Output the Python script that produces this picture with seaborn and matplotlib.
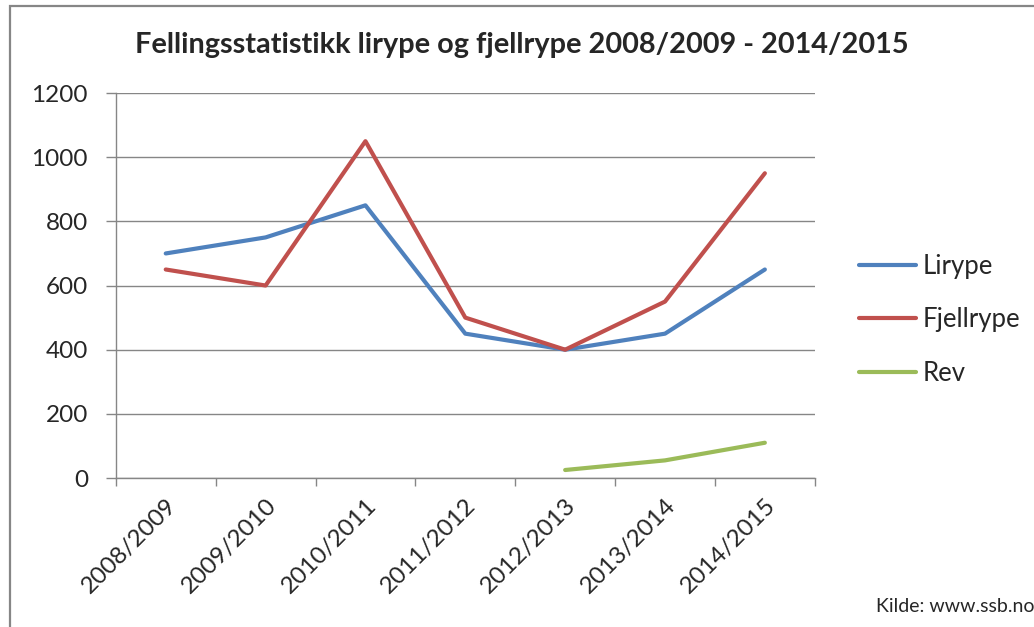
import matplotlib
matplotlib.use("Agg")
import matplotlib.pyplot as plt
import matplotlib.patches as mpatches
import numpy as np
import pandas as pd
import seaborn as sns

seasons = ["2008/2009", "2009/2010", "2010/2011", "2011/2012",
           "2012/2013", "2013/2014", "2014/2015"]
lirype = [700, 750, 850, 450, 400, 450, 650]
fjellrype = [650, 600, 1050, 500, 400, 550, 950]
rev = [np.nan, np.nan, np.nan, np.nan, 25, 55, 110]

series_names = ["Lirype", "Fjellrype", "Rev"]
colors = ["#4F81BD", "#C0504D", "#9BBB59"]

# long form for seaborn
df = pd.DataFrame({
    "season": seasons * 3,
    "value": lirype + fjellrype + rev,
    "art": sum([[n] * len(seasons) for n in series_names], []),
})

sns.set_style("white")
plt.rcParams["font.family"] = ["Lato", "DejaVu Sans"]

fig = plt.figure(figsize=(10.34, 6.27), dpi=100)
ax = fig.add_axes([0.112, 0.2376, 0.676, 0.614])

sns.lineplot(data=df, x="season", y="value", hue="art", palette=colors,
             hue_order=series_names, linewidth=3.0, ax=ax, sort=False,
             legend=True)

ax.set_xlim(-0.5, 6.5)
ax.set_ylim(0, 1200)
ax.set_yticks(range(0, 1201, 200))
ax.set_xticks(range(len(seasons)))
ax.set_xticklabels(seasons, rotation=45, ha="right", rotation_mode="anchor")
ax.set_xticks(np.arange(-0.5, 7, 1), minor=True)
ax.tick_params(axis="x", which="major", length=0, pad=12, labelsize=17.5)
ax.tick_params(axis="x", which="minor", length=6, width=1, color="#868686",
               direction="out", bottom=True)
ax.tick_params(axis="y", length=7, width=1, color="#868686", direction="out",
               left=True, labelsize=17.5, pad=13)
ax.yaxis.grid(True, color="#868686", linewidth=1)
ax.xaxis.grid(False)
for side in ["top", "right"]:
    ax.spines[side].set_visible(False)
for side in ["left", "bottom"]:
    ax.spines[side].set_color("#868686")
    ax.spines[side].set_linewidth(1)
ax.set_xlabel("")
ax.set_ylabel("")

leg = ax.legend(loc="center left", bbox_to_anchor=(0.821, 0.49),
                bbox_transform=fig.transFigure, frameon=False, fontsize=18.5,
                handlelength=2.2, handletextpad=0.25, labelspacing=1.1,
                borderaxespad=0)
for line in leg.get_lines():
    line.set_linewidth(3.0)
    line.set_solid_capstyle("round")
for line in ax.get_lines():
    line.set_solid_capstyle("round")

fig.text(0.505, 0.928, "Fellingsstatistikk lirype og fjellrype 2008/2009 - 2014/2015",
         ha="center", va="center", fontsize=20.8, fontweight="bold")
fig.text(0.847, 0.033, "Kilde: www.ssb.no", ha="left", va="center", fontsize=14)

frame = mpatches.Rectangle((0.0097, -0.2), 1.2, 1.19, transform=fig.transFigure,
                           fill=False, edgecolor="#868686", linewidth=1.6)
fig.patches.append(frame)

fig.savefig("out.png", dpi=100)
